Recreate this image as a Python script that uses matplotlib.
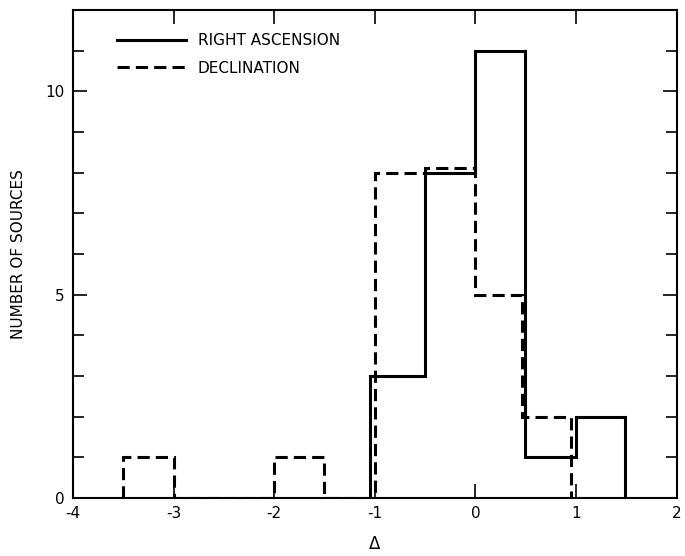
import numpy as np
import matplotlib
matplotlib.use('Agg')
import matplotlib.pyplot as plt
from matplotlib.ticker import MultipleLocator

# right ascension histogram (solid)
ra_edges  = [-1.05, -0.5, 0.0, 0.49, 1.0, 1.49]
ra_counts = [3, 8, 11, 1, 2]

# declination histogram (dashed), gaps are zero bins
dec_edges  = [-3.5, -3.0, -2.0, -1.5, -1.0, -0.5, 0.0, 0.46, 0.95]
dec_counts = [1, 0, 1, 0, 8, 8.1, 5, 2]

plt.rcParams['font.family'] = ['DejaVu Sans']
plt.rcParams['axes.unicode_minus'] = False

fig = plt.figure(figsize=(6.85, 5.56), dpi=100)
ax = fig.add_axes([0.1066, 0.1043, 0.881, 0.878])

ax.stairs(ra_counts, ra_edges, baseline=0, color='black', lw=2.2,
          label='RIGHT ASCENSION')
ax.stairs(dec_counts, dec_edges, baseline=0, color='black', lw=2.2,
          linestyle=(0, (4, 2)), label='DECLINATION')

ax.set_xlim(-4, 2)
ax.set_ylim(0, 12)
ax.set_xticks([-4, -3, -2, -1, 0, 1, 2])
ax.set_yticks([0, 5, 10])
ax.yaxis.set_minor_locator(MultipleLocator(1))
ax.tick_params(which='both', direction='in', top=True, right=True,
               labelsize=11, length=10, width=1.2, pad=6)
ax.tick_params(which='minor', length=8)
for s in ax.spines.values():
    s.set_linewidth(1.5)

ax.set_xlabel('Δ', fontsize=12, labelpad=10)
ax.set_ylabel('NUMBER OF SOURCES', fontsize=11, labelpad=14)

leg = ax.legend(loc='upper left', frameon=False, fontsize=11,
                handlelength=4.5, handletextpad=0.8, labelspacing=0.8,
                bbox_to_anchor=(0.05, 0.98))

fig.savefig('out.png', dpi=100)
